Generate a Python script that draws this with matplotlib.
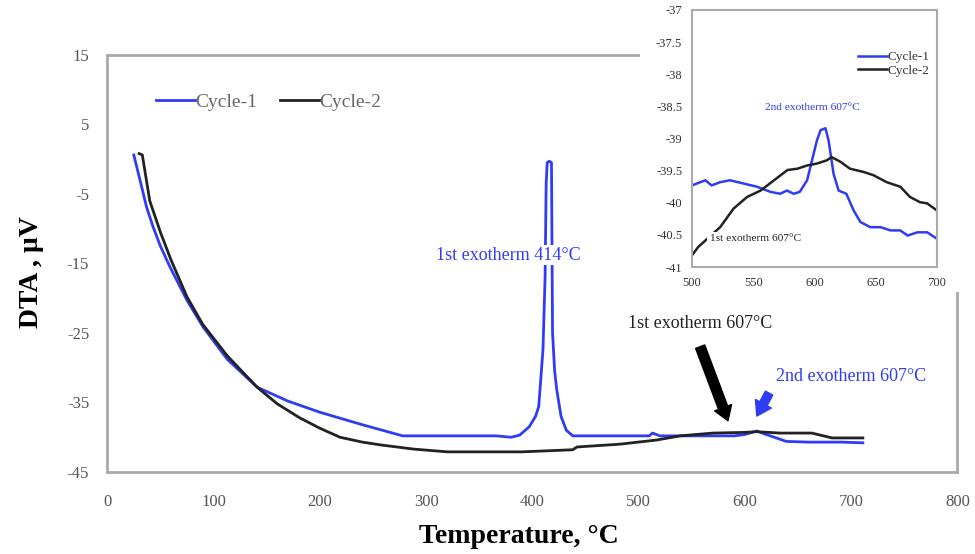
import numpy as np
import matplotlib
matplotlib.use('Agg')
import matplotlib.pyplot as plt
from matplotlib.patches import Rectangle

plt.rcParams['font.family'] = ['Liberation Serif', 'DejaVu Serif']
plt.rcParams['axes.unicode_minus'] = False

# main DTA curves (temperature in C, signal in uV)
cycle1_t = [25, 30, 37, 43, 50, 59, 75, 90, 113, 141, 170, 200, 240, 278, 320, 366, 380, 388,
            397, 403, 406, 410, 412, 413, 414, 416, 418, 419, 421, 423, 427, 432, 438, 480, 510,
            513, 520, 560, 590, 600, 607, 611, 620, 639, 660, 690, 711]
cycle1_v = [0.6, -2.5, -6.9, -9.7, -12.5, -15.5, -20.3, -24.1, -28.8, -32.8, -34.8, -36.4, -38.2,
            -39.8, -39.8, -39.8, -40.0, -39.7, -38.5, -37.0, -35.6, -27.4, -16.9, -3.5, -0.5, -0.3,
            -0.5, -25.0, -30.5, -33.2, -37.0, -39.0, -39.8, -39.8, -39.8, -39.4, -39.8, -39.8,
            -39.8, -39.6, -39.3, -39.1, -39.6, -40.6, -40.7, -40.7, -40.8]

cycle2_t = [30, 33, 40, 50, 60, 75, 90, 113, 141, 160, 181, 200, 219, 240, 257, 288, 320, 350,
            390, 438, 442, 482, 517, 539, 570, 600, 611, 633, 663, 682, 711]
cycle2_v = [0.8, 0.6, -6.0, -10.5, -14.5, -19.8, -23.8, -28.3, -32.8, -35.2, -37.2, -38.7, -40.0,
            -40.7, -41.1, -41.7, -42.1, -42.1, -42.1, -41.8, -41.4, -41.0, -40.4, -39.8, -39.4,
            -39.3, -39.2, -39.4, -39.4, -40.1, -40.1]

# zoomed region 500-700 C
ins1_t = [500, 511, 516, 523, 531, 542, 553, 564, 572, 577.5, 583, 588, 594, 598, 602, 605, 609,
          611.5, 615.6, 619.7, 626, 632, 637.5, 645.6, 654, 662, 670, 676, 684, 692, 700]
ins1_v = [-39.73, -39.65, -39.73, -39.68, -39.65, -39.70, -39.75, -39.83, -39.86, -39.81, -39.86,
          -39.83, -39.65, -39.34, -39.03, -38.87, -38.84, -39.03, -39.55, -39.81, -39.86, -40.12,
          -40.30, -40.38, -40.38, -40.43, -40.43, -40.51, -40.46, -40.46, -40.56]

ins2_t = [500, 505, 523, 534, 545, 556, 567, 578, 586, 594, 602, 610, 614, 621, 629, 640, 648,
          659, 670, 678, 686, 692, 700]
ins2_v = [-40.82, -40.69, -40.38, -40.09, -39.91, -39.81, -39.65, -39.49, -39.47, -39.42, -39.39,
          -39.34, -39.29, -39.36, -39.47, -39.52, -39.57, -39.68, -39.75, -39.91, -39.99, -40.01,
          -40.12]

x_ticks = [0, 100, 200, 300, 400, 500, 600, 700, 800]
y_ticks = [15, 5, -5, -15, -25, -35, -45]
ins_x_ticks = [500, 550, 600, 650, 700]
ins_y_ticks = [-37, -37.5, -38, -38.5, -39, -39.5, -40, -40.5, -41]

blue = '#2f3cf5'
dark = '#222222'
frame_c = '#aaaaaa'
tick_c = '#555555'

fig = plt.figure(figsize=(9.75, 5.54), dpi=100)
ax = fig.add_axes([0.110, 0.148, 0.872, 0.753])
ax.set_zorder(1)
ax.plot(cycle1_t, cycle1_v, color=blue, lw=2, label='Cycle-1')
ax.plot(cycle2_t, cycle2_v, color=dark, lw=2, label='Cycle-2')
ax.set_xlim(0, 800)
ax.set_ylim(-45, 15)
ax.set_xticks(x_ticks)
ax.set_yticks(y_ticks)
ax.tick_params(length=0, colors=tick_c, labelsize=12)
ax.tick_params(axis='x', pad=16)
ax.tick_params(axis='y', pad=13)
for s in ax.spines.values():
    s.set_color(frame_c)
    s.set_linewidth(2)
ax.set_xlabel('Temperature, °C', fontsize=20, fontweight='bold')
ax.set_ylabel('DTA , µV', fontsize=20, fontweight='bold')
ax.xaxis.set_label_coords(0.484, -0.125)
ax.yaxis.set_label_coords(-0.074, 0.48)

leg = ax.legend(loc='center left', bbox_to_anchor=(0.037, 0.887), ncol=2, frameon=False,
                handlelength=2.0, handletextpad=0.0, columnspacing=1.2, fontsize=14)
for t in leg.get_texts():
    t.set_color('#666666')

ax.text(377, -13.8, '1st exotherm 414°C', color=blue, fontsize=13, ha='center', va='center',
        zorder=5, bbox=dict(facecolor='white', edgecolor='none', pad=1))
ax.text(558, -23.6, '1st exotherm 607°C', color=dark, fontsize=13, ha='center', va='center')
ax.text(700, -31.2, '2nd exotherm 607°C', color=blue, fontsize=13, ha='center', va='center')
ax.annotate('', xy=(585, -38.0), xytext=(557, -26.6),
            arrowprops=dict(arrowstyle='simple,head_width=1.3,head_length=1.0,tail_width=0.7',
                            color='black'))
ax.annotate('', xy=(610, -37.3), xytext=(624, -33.3),
            arrowprops=dict(arrowstyle='simple,head_width=1.3,head_length=1.0,tail_width=0.6',
                            color=blue))

# white area behind the inset and its labels
fig.add_artist(Rectangle((0.656, 0.473), 0.344, 0.527, transform=fig.transFigure,
                         facecolor='white', edgecolor='none', zorder=2))

# inset
ins = fig.add_axes([0.7097, 0.518, 0.2513, 0.464])
ins.set_zorder(3)
ins.set_facecolor('white')
ins.plot(ins1_t, ins1_v, color=blue, lw=1.8, label='Cycle-1')
ins.plot(ins2_t, ins2_v, color=dark, lw=1.8, label='Cycle-2')
ins.set_xlim(500, 700)
ins.set_ylim(-41, -37)
ins.set_xticks(ins_x_ticks)
ins.set_yticks(ins_y_ticks)
ins.set_yticklabels([('%g' % v) for v in ins_y_ticks])
ins.tick_params(length=0, colors='#333333', labelsize=9, pad=7)
for s in ins.spines.values():
    s.set_color(frame_c)
    s.set_linewidth(1.5)
il = ins.legend(loc='center left', bbox_to_anchor=(0.63, 0.79), frameon=False, fontsize=9.5,
                handlelength=2.2, handletextpad=0.0, labelspacing=0.1)
for t in il.get_texts():
    t.set_color('#333333')
ins.text(598, -38.51, '2nd exotherm 607°C', color=blue, fontsize=8.2, ha='center', va='center')
ins.text(552, -40.56, '1st exotherm 607°C', color=dark, fontsize=8.2, ha='center', va='center',
         zorder=5, bbox=dict(facecolor='white', edgecolor='none', pad=2))

fig.savefig('out.png', dpi=100)
